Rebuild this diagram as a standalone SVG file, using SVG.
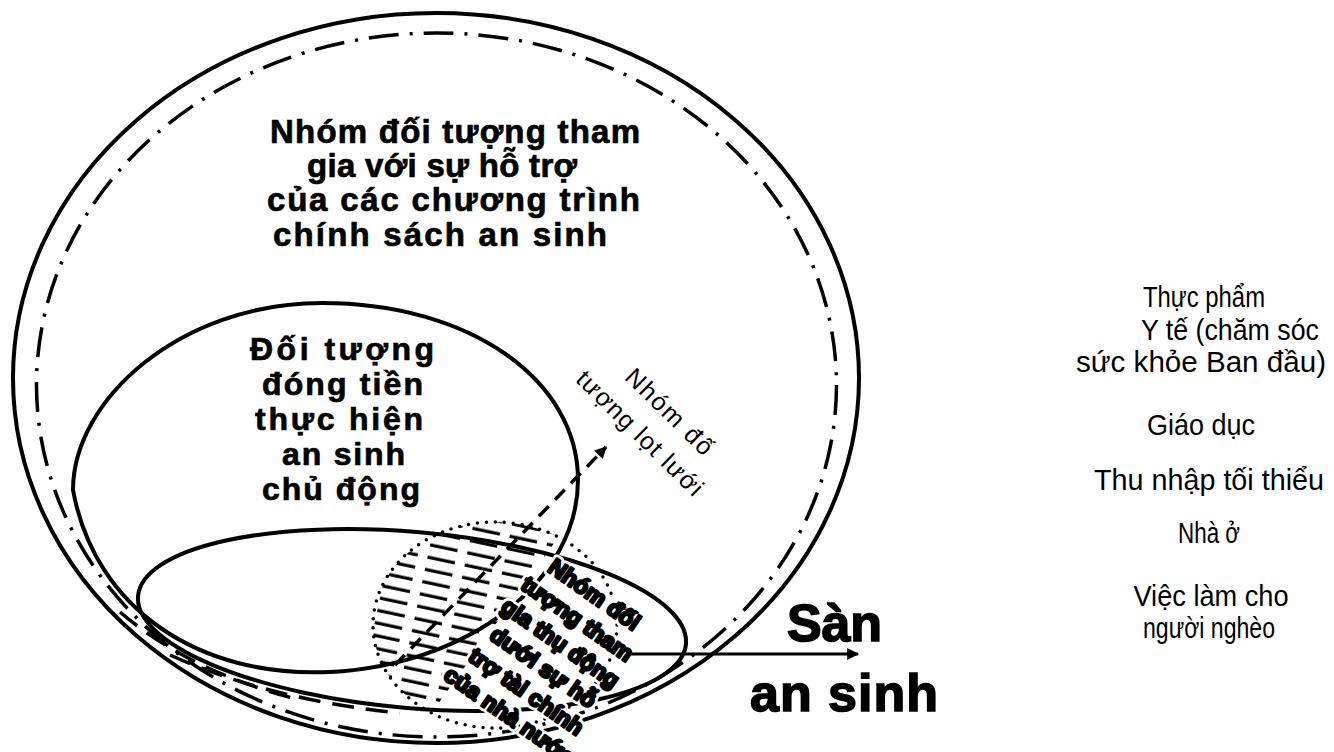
<svg xmlns="http://www.w3.org/2000/svg" width="1334" height="752" viewBox="0 0 1334 752">
<style>
  .solid{fill:none;stroke:#000;stroke-width:4}
  .dashdot{fill:none;stroke:#000;stroke-width:3.5;stroke-dasharray:30 11 3 11}
  .dotted{fill:none;stroke:#000;stroke-width:3.5;stroke-linecap:round;stroke-dasharray:0 9}
  .hatchline{fill:none;stroke:#000;stroke-width:3.5;stroke-dasharray:22 12}
  .bold{font-family:"Liberation Sans",Arial,sans-serif;font-weight:bold;fill:#000;stroke:#000;stroke-width:0.7}
  .heavy{font-family:"Liberation Sans",Arial,sans-serif;font-weight:bold;fill:#000;stroke:#000;stroke-width:1.6}
  .reg{font-family:"Liberation Sans",Arial,sans-serif;fill:#000}
  .mid{text-anchor:middle}
</style>
<defs>
  <marker id="head" viewBox="0 0 10 10" refX="9" refY="5" markerUnits="userSpaceOnUse" markerWidth="16" markerHeight="12" orient="auto">
    <path d="M0,0 L10,5 L0,10 z" fill="#000"/>
  </marker>
  <pattern id="hatch" width="38" height="12.5" patternUnits="userSpaceOnUse" patternTransform="rotate(12)">
    <line x1="2" y1="6" x2="30" y2="6" stroke="#000" stroke-width="3.2"/>
  </pattern>
  <clipPath id="dotClip">
    <ellipse cx="495" cy="625" rx="122" ry="103"/>
  </clipPath>
  <g id="passiveText" transform="translate(552,655) rotate(35)" font-family="Liberation Sans, Arial, sans-serif" font-weight="bold" font-size="23" text-anchor="middle">
    <text x="0" y="-66">Nhóm đối</text>
    <text x="0" y="-36.4">tượng tham</text>
    <text x="0" y="-6.8">gia thụ động</text>
    <text x="0" y="22.8">dưới sự hỗ</text>
    <text x="0" y="52.4">trợ tài chính</text>
    <text x="0" y="82">của nhà nước</text>
  </g>
</defs>

<!-- outer boundary: everyone in the social security system -->
<g id="outer">
  <ellipse class="solid" cx="436" cy="378" rx="423" ry="365"/>
  <ellipse class="dashdot" cx="436.5" cy="385" rx="400" ry="352"/>
  <text class="bold" font-size="33" x="270" y="143" textLength="370">Nhóm đối tượng tham</text>
  <text class="bold" font-size="33" x="307" y="177" textLength="270">gia với sự hỗ trợ</text>
  <text class="bold" font-size="33" x="267" y="211" textLength="373">của các chương trình</text>
  <text class="bold" font-size="33" x="273" y="246" textLength="334">chính sách an sinh</text>
</g>

<!-- contributors group -->
<g id="contributors">
  <path class="solid" d="M73,490 C73,400 180,303 322,303 C470,303 578,380 578,480 C578,580 470,665 330,672 C200,678 95,610 73,490 Z"/>
  <text class="bold" font-size="32" x="250" y="360" textLength="184">Đối tượng</text>
  <text class="bold" font-size="32" x="262" y="395" textLength="161">đóng tiền</text>
  <text class="bold" font-size="32" x="255" y="430" textLength="168">thực hiện</text>
  <text class="bold" font-size="32" x="282" y="465" textLength="123">an sinh</text>
  <text class="bold" font-size="32" x="262" y="500" textLength="158">chủ động</text>
</g>

<!-- floor band -->
<g id="floor">
  <ellipse class="solid" cx="412" cy="620" rx="275" ry="88" transform="rotate(5 412 620)"/>
  <path class="hatchline" d="M170,655 Q270,700 400,713"/>
  <path class="hatchline" d="M120,612 Q190,672 300,700"/>
</g>

<!-- passive beneficiaries: hatched zone -->
<g id="passive">
  <polygon points="360,500 575,500 560,535 430,715 400,760 360,760" fill="url(#hatch)" clip-path="url(#dotClip)"/>
  <ellipse class="dotted" cx="495" cy="625" rx="122" ry="103"/>
  <use href="#passiveText" fill="#fff" stroke="#fff" stroke-width="8" stroke-linejoin="round"/>
  <use href="#passiveText" fill="#000" stroke="#000" stroke-width="2.6" stroke-linejoin="round"/>
</g>

<!-- people slipping through the net -->
<g id="uncovered">
  <g transform="translate(655,422) rotate(44.5)">
    <text class="reg mid" font-size="25" x="3" y="-9" textLength="112">Nhóm đố</text>
    <text class="reg mid" font-size="25" x="-3" y="27" textLength="167">tượng lọt lưới</text>
  </g>
</g>

<!-- floor label -->
<g id="floorLabel">
  <text class="heavy" font-size="52" x="787" y="641" textLength="95">Sàn</text>
  <text class="heavy" font-size="52" x="750" y="711" textLength="188">an sinh</text>
</g>

<!-- list of basic services -->
<g id="services">
  <text class="reg mid" font-size="29" x="1204" y="307" textLength="122" lengthAdjust="spacingAndGlyphs">Thực phẩm</text>
  <text class="reg mid" font-size="29" x="1230" y="340" textLength="178" lengthAdjust="spacingAndGlyphs">Y tế (chăm sóc</text>
  <text class="reg mid" font-size="29" x="1201" y="372" textLength="250" lengthAdjust="spacingAndGlyphs">sức khỏe Ban đầu)</text>
  <text class="reg mid" font-size="29" x="1201" y="435" textLength="108" lengthAdjust="spacingAndGlyphs">Giáo dục</text>
  <text class="reg mid" font-size="29" x="1209" y="490" textLength="230" lengthAdjust="spacingAndGlyphs">Thu nhập tối thiểu</text>
  <text class="reg mid" font-size="29" x="1209" y="543" textLength="62" lengthAdjust="spacingAndGlyphs">Nhà ở</text>
  <text class="reg mid" font-size="29" x="1211" y="606" textLength="155" lengthAdjust="spacingAndGlyphs">Việc làm cho</text>
  <text class="reg mid" font-size="29" x="1209" y="638" textLength="132" lengthAdjust="spacingAndGlyphs">người nghèo</text>
</g>

<!-- connectors -->
<g id="connectors">
  <line x1="395" y1="665" x2="606" y2="447" stroke="#000" stroke-width="3.5" stroke-dasharray="14 9" marker-end="url(#head)"/>
  <line x1="627" y1="654" x2="858" y2="654" stroke="#000" stroke-width="3" marker-end="url(#head)"/>
</g>
</svg>
